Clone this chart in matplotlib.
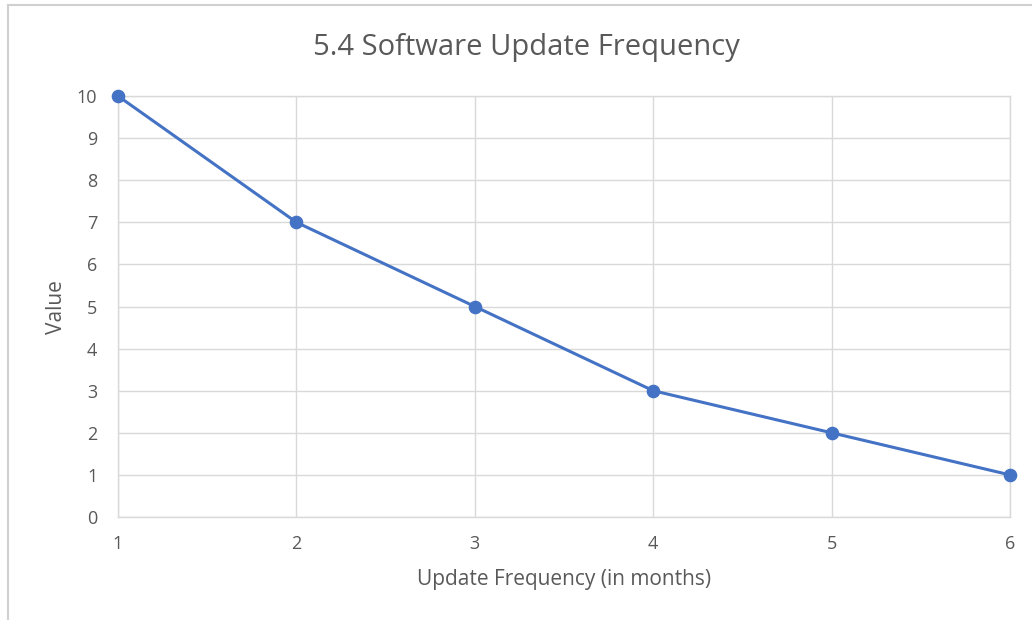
import matplotlib
matplotlib.use("Agg")
import matplotlib.pyplot as plt
from matplotlib.lines import Line2D

months = [1, 2, 3, 4, 5, 6]
values = [10, 7, 5, 3, 2, 1]
y_ticks = list(range(0, 11))

plt.rcParams['font.family'] = ['Open Sans', 'DejaVu Sans']

text_color = '#595959'
grid_color = '#d9d9d9'
line_color = '#4472C4'

W, H = 1032, 620
fig = plt.figure(figsize=(W / 100, H / 100), dpi=100)
fig.patch.set_facecolor('white')

# chart frame (left and top edges)
fig.add_artist(Line2D([8 / W, 8 / W], [0, 1 - 5 / H], transform=fig.transFigure,
                      color='#d0d0d0', lw=1.5))
fig.add_artist(Line2D([8 / W, 1], [1 - 5 / H, 1 - 5 / H], transform=fig.transFigure,
                      color='#d0d0d0', lw=1.5))

ax = fig.add_axes([118 / W, 1 - 517 / H, (1010 - 118) / W, (517 - 96) / H])
ax.plot(months, values, color=line_color, lw=2.2, marker='o', markersize=8.8,
        clip_on=False, zorder=3)

ax.set_xlim(1, 6)
ax.set_ylim(0, 10)
ax.set_xticks(months)
ax.set_yticks(y_ticks)
ax.grid(True, color=grid_color, lw=1.0)
ax.set_axisbelow(True)
for s in ax.spines.values():
    s.set_color(grid_color)
    s.set_linewidth(1.0)
ax.tick_params(length=0, colors=text_color, labelsize=13)
ax.tick_params(axis='x', pad=13)
ax.tick_params(axis='y', pad=15)

fig.text(526 / W, 1 - 47 / H, '5.4 Software Update Frequency', color=text_color,
         fontsize=21, ha='center', va='center')
fig.text(564 / W, 1 - 580 / H, 'Update Frequency (in months)', color=text_color,
         fontsize=15, ha='center', va='center')
fig.text(57 / W, 1 - 307 / H, 'Value', color=text_color, fontsize=15,
         ha='center', va='center', rotation=90)

fig.savefig('out.png', dpi=100, facecolor='white')
